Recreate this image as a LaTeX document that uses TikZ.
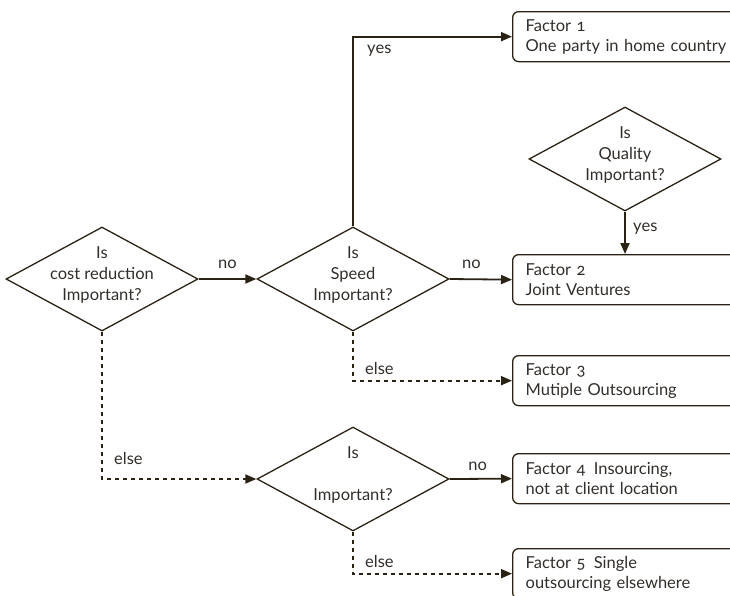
\documentclass[tikz,border=0pt]{standalone}
\usepackage{fontspec}
\setmainfont{Lato}[Numbers=OldStyle]
\usetikzlibrary{shapes.geometric,arrows.meta,positioning}
\definecolor{linebrown}{RGB}{43,34,22}
\definecolor{textgray}{RGB}{50,46,42}

\begin{document}
\begin{tikzpicture}[x=1pt,y=-1pt,
  every node/.style={text=textgray,font=\fontsize{16.5}{21}\selectfont},
  question/.style={draw=linebrown,line width=1.3pt,diamond,minimum width=192pt,minimum height=104pt,inner sep=0pt},
  asktext/.style={align=center},
  factor/.style={draw=linebrown,line width=1.3pt,rounded corners=6pt,anchor=north west,
    minimum width=270pt,minimum height=50pt,text width=244pt,inner xsep=13pt,align=left,
    font=\fontsize{16.5}{20}\selectfont},
  flow/.style={draw=linebrown,line width=1.8pt,-{Triangle[length=11pt,width=9pt]}},
  elseflow/.style={flow,dash pattern=on 4pt off 4pt}]
\useasboundingbox (0,0) rectangle (730,595);
\clip (0,0) rectangle (730,595);

  \node[question] (cost) at (102,279) {};
  \node[asktext] (costtext) at (102,275) {Is\\cost reduction\\Important?};
  \node[question] (speed) at (353,279) {};
  \node[asktext] (speedtext) at (353,275) {Is\\Speed\\Important?};
  \node[question] (blank) at (353,479) {};
  \node[asktext] (blanktext) at (353,475) {Is\\[21pt]Important?};
  \node[question] (quality) at (625,159) {};
  \node[asktext] (qualitytext) at (625,155) {Is\\Quality\\Important?};

  \node[factor] (f1) at (512,11) {Factor 1\\One party in home country};
  \node[factor] (f2) at (512,254) {Factor 2\\Joint Ventures};
  \node[factor] (f3) at (512,355) {Factor 3\\Mutiple Outsourcing};
  \node[factor] (f4) at (512,453) {Factor 4\enspace Insourcing,\\not at client location};
  \node[factor] (f5) at (512,548) {Factor 5\enspace Single\\outsourcing elsewhere};

\draw[flow] (cost.east) -- node[above=6pt] {no} (speed.west);
\draw[flow] (speed.north) |- node[pos=0.5,below right=4pt and 10pt] {yes} (f1.west);
\draw[flow] (speed.east) -- node[pos=0.35,above=6pt] {no} (f2.west);
\draw[elseflow] (speed.south) |- node[pos=0.5,above right=2pt and 8pt] {else} (f3.west);
\draw[elseflow] (cost.south) |- node[pos=0.5,above right=10pt and 8pt] {else} (blank.west);
\draw[flow] (blank.east) -- node[pos=0.45,above=4pt] {no} (f4.west);
\draw[elseflow] (blank.south) |- node[pos=0.5,above right=2pt and 8pt] {else} (f5.west);
\draw[flow] (quality.south) -- node[pos=0.4,right=4pt] {yes} (quality.south |- f2.north);
\end{tikzpicture}
\end{document}
